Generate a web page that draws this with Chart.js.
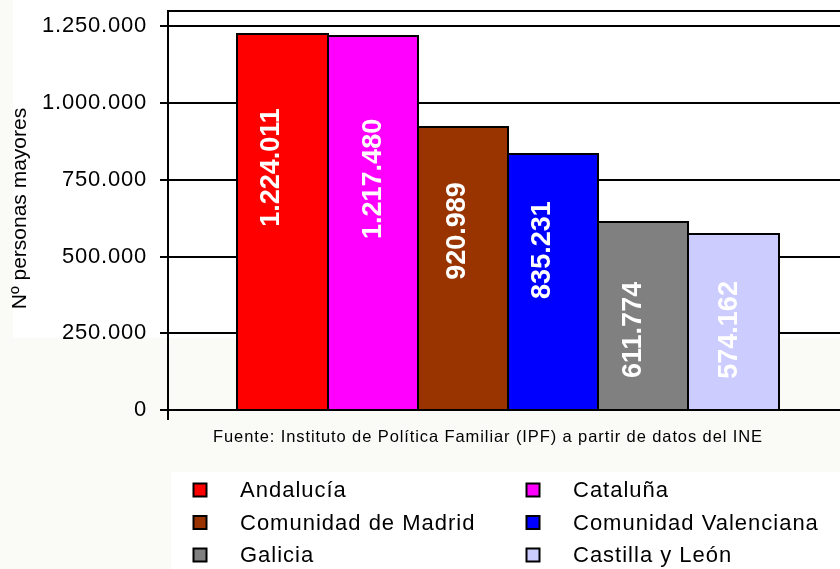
<!DOCTYPE html>
<html>
<head>
<meta charset="utf-8">
<script src="https://cdn.jsdelivr.net/npm/chart.js@4/dist/chart.umd.min.js"></script>
<style>
html,body{margin:0;padding:0;overflow:hidden;background:#fafaf6;}
#wrap{position:absolute;left:0;top:0;width:848px;height:569px;}
</style>
</head>
<body>
<div id="wrap"><canvas id="c" width="848" height="569"></canvas></div>
<script>
// ---- data ----
const regions = ['Andalucía','Cataluña','Comunidad de Madrid','Comunidad Valenciana','Galicia','Castilla y León'];
const personasMayores = [1224011, 1217480, 920989, 835231, 611774, 574162];
const yTicks = [0, 250000, 500000, 750000, 1000000, 1250000];
const yAxisMax = 1300000;
const yAxisTitle = 'Nº personas mayores';
const sourceNote = 'Fuente: Instituto de Política Familiar (IPF) a partir de datos del INE';

// ---- styles ----
const barColors = ['#ff0000','#ff00ff','#993300','#0000ff','#808080','#ccccff'];
const labelStyle = [ // where the value label sits inside each bar
  {dx:-11, at:790000}, {dx:1, at:753000}, {dx:-5.5, at:583000},
  {dx:-10.5, at:521000}, {dx:-10, at:261000}, {dx:-3.5, at:261000}
];
const FONT = '"Liberation Sans", Arial, sans-serif';

function fmt(v){
  return String(Math.round(v)).replace(/\B(?=(\d{3})+(?!\d))/g,'.');
}

const datasets = regions.map((r,i)=>({
  label: r,
  data: [personasMayores[i]],
  backgroundColor: barColors[i],
  borderWidth: 0,
  categoryPercentage: 0.7956,
  barPercentage: 1.0
}));

const bgPlugin = {
  id:'bg',
  beforeDraw(chart){
    const c = chart.ctx;
    c.save();
    c.fillStyle = '#fafaf6';
    c.fillRect(0,0,chart.width,chart.height);
    c.fillStyle = '#ffffff';
    c.fillRect(13,0,chart.width-13,338);
    c.fillRect(171,472,chart.width-171,chart.height-472);
    c.restore();
    c.letterSpacing = '0.8px';
  }
};

const overlayPlugin = {
  id:'overlay',
  afterDatasetsDraw(chart){
    const c = chart.ctx;
    const ys = chart.scales.y;
    c.save();
    c.letterSpacing = '0px';
    // bar outlines
    c.strokeStyle = '#000';
    c.lineWidth = 2;
    chart.data.datasets.forEach((ds,i)=>{
      const bar = chart.getDatasetMeta(i).data[0];
      const l = Math.round(bar.x - bar.width/2), r = Math.round(bar.x + bar.width/2);
      const t = Math.round(bar.y), b = Math.round(bar.base);
      c.beginPath();
      c.moveTo(l, b); c.lineTo(l, t); c.lineTo(r, t); c.lineTo(r, b);
      c.stroke();
    });
    // value labels
    c.fillStyle = '#ffffff';
    c.font = 'bold 27px ' + FONT;
    c.textAlign = 'center';
    c.textBaseline = 'middle';
    chart.data.datasets.forEach((ds,i)=>{
      const bar = chart.getDatasetMeta(i).data[0];
      const x = bar.x + labelStyle[i].dx;
      const y = ys.getPixelForValue(labelStyle[i].at);
      c.save();
      c.translate(x,y);
      c.rotate(-Math.PI/2);
      c.fillText(fmt(ds.data[0]),0,0);
      c.restore();
    });
    c.restore();
  },
  afterDraw(chart){
    const c = chart.ctx;
    c.save();
    c.letterSpacing = '0px';
    // y axis title
    c.fillStyle = '#000';
    c.font = '21px ' + FONT;
    c.textAlign = 'center';
    c.textBaseline = 'middle';
    c.save();
    c.translate(20, (chart.chartArea.top + chart.chartArea.bottom)/2 - 2);
    c.rotate(-Math.PI/2);
    c.fillText(yAxisTitle,0,0);
    c.restore();
    // source note
    c.letterSpacing = '0.9px';
    c.font = '16.5px ' + FONT;
    c.fillText(sourceNote, 488, 437);
    // legend
    c.letterSpacing = '1px';
    c.font = '22px ' + FONT;
    c.textAlign = 'left';
    const colX = [200, 533];
    const rowY = [490, 522.5, 555];
    chart.data.datasets.forEach((ds,i)=>{
      const col = i % 2, row = Math.floor(i/2);
      const mx = colX[col], my = rowY[row];
      c.fillStyle = ds.backgroundColor;
      c.fillRect(mx-6.5, my-6.5, 13, 13);
      c.strokeStyle = '#000';
      c.lineWidth = 2;
      c.strokeRect(mx-6.5, my-6.5, 13, 13);
      c.fillStyle = '#000';
      c.fillText(ds.label, mx+40, my+1);
    });
    c.restore();
  }
};

new Chart(document.getElementById('c'), {
  type:'bar',
  data:{ labels:[''], datasets },
  plugins:[bgPlugin, overlayPlugin],
  options:{
    responsive:false,
    devicePixelRatio:1,
    animation:false,
    layout:{ padding:{ top:11, bottom:149, left:0, right:0 } },
    plugins:{ legend:{display:false}, tooltip:{enabled:false}, title:{display:false} },
    scales:{
      x:{
        offset:true,
        grid:{ display:true, offset:true, drawOnChartArea:false, drawTicks:true, tickLength:10, color:'#000', lineWidth:2 },
        border:{ display:false },
        ticks:{ display:false }
      },
      y:{
        min:0, max:yAxisMax,
        afterBuildTicks(scale){
          scale.ticks = yTicks.concat([yAxisMax]).map(v=>({value:v}));
        },
        afterFit(scale){
          scale.width = 168;
          scale.paddingTop = 0;
          scale.paddingBottom = 0;
        },
        grid:{
          color:'#000', lineWidth:2, drawTicks:true, tickLength:8,
          tickColor: ctx => (ctx.tick && ctx.tick.value === yAxisMax) ? 'rgba(0,0,0,0)' : '#000'
        },
        border:{ display:true, color:'#000', width:2 },
        ticks:{
          color:'#000', padding:13,
          font:{ family:FONT, size:22 },
          callback: v => (v === yAxisMax ? '' : fmt(v))
        },
        title:{ display:false }
      }
    }
  }
});
</script>
</body>
</html>
